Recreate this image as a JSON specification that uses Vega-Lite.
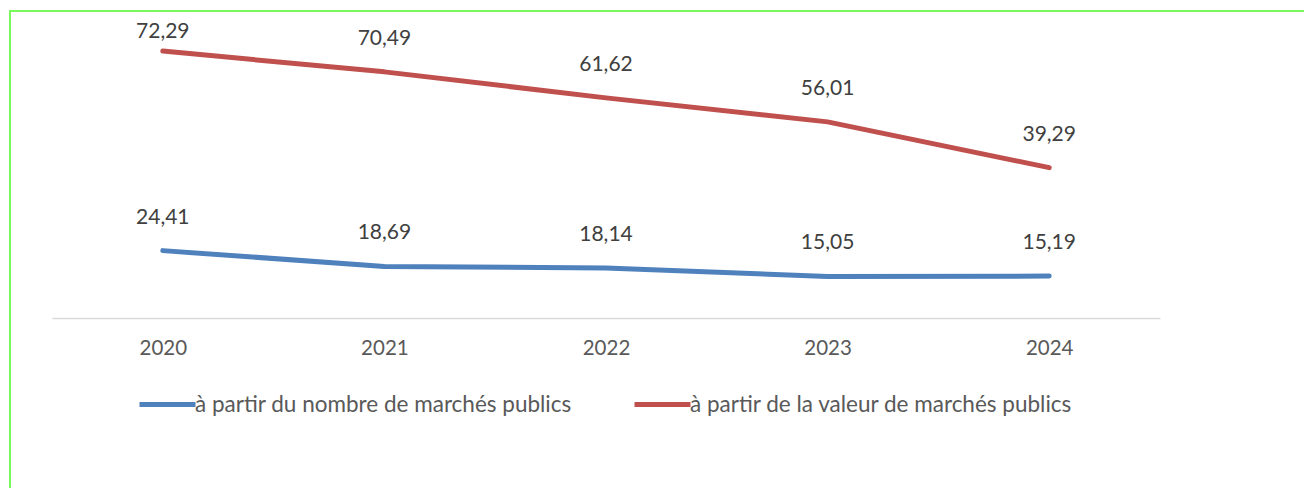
{
  "$schema": "https://vega.github.io/schema/vega-lite/v6.json",
  "width": 1304,
  "height": 487,
  "autosize": {"type": "none"},
  "padding": {"left": 10, "top": 11, "right": -10, "bottom": -10},
  "background": "white",
  "config": {
    "view": {"stroke": "#78F85A", "strokeWidth": 2},
    "font": "Lato",
    "locale": {"number": {"decimal": ",", "thousands": " ", "grouping": [3], "currency": ["", " €"]}}
  },
  "data": {
    "values": [
      {"year": "2020", "series": "à partir du nombre de marchés publics", "value": 24.41},
      {"year": "2021", "series": "à partir du nombre de marchés publics", "value": 18.69},
      {"year": "2022", "series": "à partir du nombre de marchés publics", "value": 18.14},
      {"year": "2023", "series": "à partir du nombre de marchés publics", "value": 15.05},
      {"year": "2024", "series": "à partir du nombre de marchés publics", "value": 15.19},
      {"year": "2020", "series": "à partir de la valeur  de marchés publics", "value": 72.29},
      {"year": "2021", "series": "à partir de la valeur  de marchés publics", "value": 70.49},
      {"year": "2022", "series": "à partir de la valeur  de marchés publics", "value": 61.62},
      {"year": "2023", "series": "à partir de la valeur  de marchés publics", "value": 56.01},
      {"year": "2024", "series": "à partir de la valeur  de marchés publics", "value": 39.29}
    ]
  },
  "transform": [
    {"stack": "value", "groupby": ["year"], "sort": [{"field": "series", "order": "descending"}], "as": ["v0", "v1"]}
  ],
  "encoding": {
    "x": {
      "field": "year",
      "type": "ordinal",
      "scale": {"type": "point", "padding": 0.5, "range": [42, 1150]},
      "axis": {
        "title": null,
        "labelAngle": 0,
        "ticks": false,
        "grid": false,
        "domainColor": "#D9D9D9",
        "domainWidth": 1.5,
        "labelFont": "Lato",
        "labelFontSize": 20.5,
        "labelColor": "#595959",
        "labelPadding": 20,
        "offset": -180
      }
    },
    "y": {
      "field": "v1",
      "type": "quantitative",
      "scale": {"domain": [0, 100], "range": [307, 31]},
      "axis": null
    }
  },
  "layer": [
    {
      "mark": {"type": "line", "strokeWidth": 5, "strokeCap": "round", "strokeJoin": "round"},
      "encoding": {
        "color": {
          "field": "series",
          "type": "nominal",
          "scale": {
            "domain": ["à partir du nombre de marchés publics", "à partir de la valeur  de marchés publics"],
            "range": ["#4F81BD", "#C0504D"]
          },
          "legend": {
            "orient": "none",
            "legendX": 127,
            "legendY": 363,
            "direction": "horizontal",
            "title": null,
            "symbolType": "stroke",
            "symbolSize": 3136,
            "symbolStrokeWidth": 5,
            "labelFont": "Lato",
            "labelFontSize": 22.5,
            "labelColor": "#595959",
            "labelLimit": 600,
            "labelOffset": -3,
            "columnPadding": 52,
            "padding": 0
          }
        }
      }
    },
    {
      "transform": [{"filter": "!(datum.year == '2020' && datum.v0 > 0)"}],
      "mark": {"type": "text", "dy": -33, "fontSize": 21, "color": "#404040", "font": "Lato"},
      "encoding": {"text": {"field": "value", "type": "quantitative", "format": ".2f"}}
    },
    {
      "transform": [{"filter": "datum.year == '2020' && datum.v0 > 0"}],
      "mark": {"type": "text", "dy": -19, "fontSize": 21, "color": "#404040", "font": "Lato"},
      "encoding": {"text": {"field": "value", "type": "quantitative", "format": ".2f"}}
    }
  ]
}
